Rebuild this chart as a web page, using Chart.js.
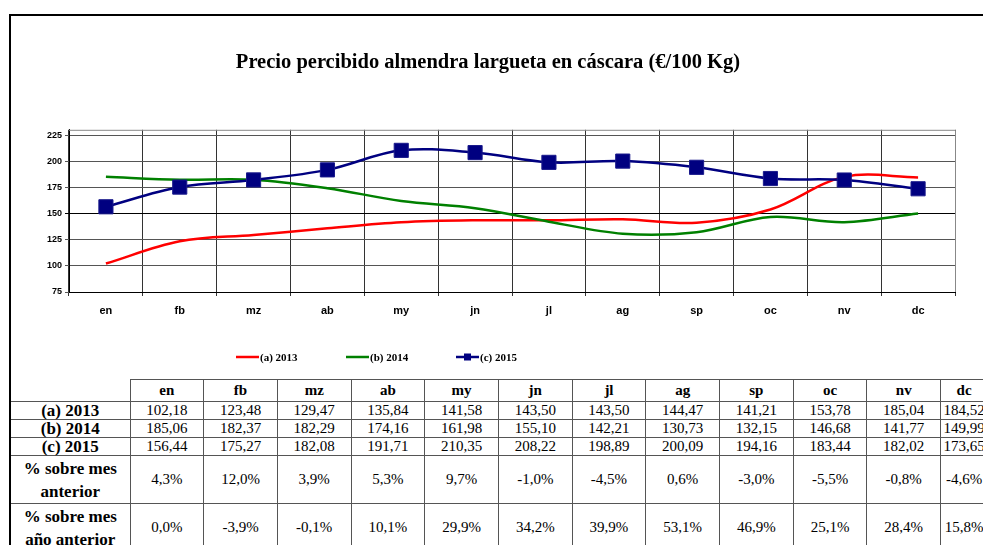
<!DOCTYPE html>
<html><head><meta charset="utf-8">
<script src="https://cdn.jsdelivr.net/npm/chart.js@4.4.0/dist/chart.umd.min.js"></script>
<style>
html,body{margin:0;padding:0;width:983px;height:545px;overflow:hidden;background:#fff;}
#frame{position:absolute;left:9px;top:14px;width:2000px;height:1000px;border-left:2px solid #000;border-top:2px solid #000;}
#wrap{position:absolute;left:0;top:0;width:983px;height:378px;}
#tbl{position:absolute;left:11px;top:379px;width:977px;border-collapse:collapse;table-layout:fixed;font-family:'Liberation Serif',serif;color:#000;}
#tbl td,#tbl th{padding:0;text-align:center;border:1px solid #555;overflow:visible;white-space:nowrap;}
#tbl th{font-weight:bold;font-size:15px;height:21px;}
#tbl td{font-size:15px;}
#tbl td.lab{font-weight:bold;font-size:17px;border-left:none;}
#tbl th.corner{border-top:none;border-left:none;}
#tbl tr.r td{height:17px;line-height:17px;}
#tbl tr.p td{height:47px;line-height:23px;}
</style></head>
<body>
<div id="frame"></div>
<div id="wrap"><canvas id="c" width="983" height="378"></canvas></div>
<table id="tbl"></table>
<script>
const months = ['en','fb','mz','ab','my','jn','jl','ag','sp','oc','nv','dc'];
const seriesLabels = ['(a) 2013','(b) 2014','(c) 2015'];
const values2013 = [102.18,123.48,129.47,135.84,141.58,143.50,143.50,144.47,141.21,153.78,185.04,184.52];
const values2014 = [185.06,182.37,182.29,174.16,161.98,155.10,142.21,130.73,132.15,146.68,141.77,149.99];
const values2015 = [156.44,175.27,182.08,191.71,210.35,208.22,198.89,200.09,194.16,183.44,182.02,173.65];
const pctMesAnterior = [4.3,12.0,3.9,5.3,9.7,-1.0,-4.5,0.6,-3.0,-5.5,-0.8,-4.6];
const pctAnoAnterior = [0.0,-3.9,-0.1,10.1,29.9,34.2,39.9,53.1,46.9,25.1,28.4,15.8];
const yTicks = [75,100,125,150,175,200,225];
const titleText = 'Precio percibido almendra largueta en cáscara (€/100 Kg)';

// ---- table ----
const fmt2 = v => v.toFixed(2).replace('.', ',');
const fmtP = v => v.toFixed(1).replace('.', ',') + '%';
let html = '<colgroup><col style="width:119px">' + months.map((m,i)=>'<col style="width:' + (i === months.length - 1 ? '47px' : '73.7px') + '">').join('') + '</colgroup>';
html += '<tr><th class="corner"></th>' + months.map(m=>'<th>'+m+'</th>').join('') + '</tr>';
[values2013, values2014, values2015].forEach((arr,i)=>{
  html += '<tr class="r"><td class="lab">'+seriesLabels[i]+'</td>' + arr.map(v=>'<td>'+fmt2(v)+'</td>').join('') + '</tr>';
});
html += '<tr class="p"><td class="lab">% sobre mes<br>anterior</td>' + pctMesAnterior.map(v=>'<td>'+fmtP(v)+'</td>').join('') + '</tr>';
html += '<tr class="p"><td class="lab">% sobre mes<br>año anterior</td>' + pctAnoAnterior.map(v=>'<td>'+fmtP(v)+'</td>').join('') + '</tr>';
document.getElementById('tbl').innerHTML = html;

// ---- chart ----
const legendPlugin = {
  id: 'excelLegend',
  afterDraw(chart) {
    const ctx = chart.ctx; const y = 357; const starts = [236, 346, 456];
    chart.data.datasets.forEach((ds, i) => {
      const x = starts[i];
      ctx.save();
      ctx.strokeStyle = ds.borderColor; ctx.lineWidth = 2.5;
      ctx.beginPath(); ctx.moveTo(x, y); ctx.lineTo(x + 23, y); ctx.stroke();
      if (ds.pointRadius > 0) { ctx.fillStyle = ds.pointBackgroundColor; ctx.fillRect(x + 11.5 - 3.5, y - 3.5, 7, 7); }
      ctx.fillStyle = '#000'; ctx.font = 'bold 11px "Liberation Serif"'; ctx.textBaseline = 'middle';
      ctx.fillText(ds.label, x + 24, y + 1);
      ctx.restore();
    });
  }
};
const borderPlugin = {
  id: 'plotBorder',
  beforeDatasetsDraw(chart) {
    const a = chart.chartArea, ctx = chart.ctx;
    ctx.save(); ctx.strokeStyle = '#888'; ctx.lineWidth = 1;
    ctx.beginPath(); ctx.moveTo(a.left, a.top + 0.5); ctx.lineTo(a.right + 0.5, a.top + 0.5); ctx.lineTo(a.right + 0.5, a.bottom); ctx.stroke();
    ctx.restore();
  }
};

new Chart(document.getElementById('c'), {
  type: 'line',
  data: {
    labels: months,
    datasets: [
      {label: seriesLabels[0], data: values2013, borderColor: '#ff0000', backgroundColor: '#ff0000', borderWidth: 2.5, pointRadius: 0, tension: 0.35, order: 3},
      {label: seriesLabels[1], data: values2014, borderColor: '#008000', backgroundColor: '#008000', borderWidth: 2.5, pointRadius: 0, tension: 0.35, order: 2},
      {label: seriesLabels[2], data: values2015, borderColor: '#000080', backgroundColor: '#000080', borderWidth: 2.5, pointRadius: 10, pointStyle: 'rect', pointBackgroundColor: '#000080', pointBorderColor: '#1a1a8c', pointBorderWidth: 1, tension: 0.35, order: 1}
    ]
  },
  options: {
    responsive: false, animation: false, devicePixelRatio: 1,
    layout: {padding: {left: 21, right: 28, top: 0, bottom: 0}},
    plugins: {
      legend: {display: false}, tooltip: {enabled: false},
      title: {display: true, text: titleText, color: '#000', font: {family: 'Liberation Serif', size: 20.5, weight: 'bold'}, padding: {top: 50, bottom: 55.2}}
    },
    scales: {
      x: {
        offset: true,
        grid: {offset: true, color: '#333', lineWidth: 1, tickLength: 4, drawTicks: true},
        border: {display: true, color: '#000'},
        ticks: {color: '#000', font: {family: 'Liberation Sans', size: 11, weight: 'bold'}, padding: 8, maxRotation: 0},
        afterFit(s) { s.height = 86; }
      },
      y: {
        min: 75, max: 230,
        afterBuildTicks(s) { s.ticks = yTicks.map(v => ({value: v})); },
        grid: {color: ctx => (ctx.tick && ctx.tick.value === 150) ? '#000' : '#555', lineWidth: 1, tickLength: 4, drawTicks: true},
        border: {display: true, color: '#000'},
        ticks: {color: '#000', font: {family: 'Liberation Sans', size: 9, weight: 'bold'}, padding: 3},
        afterFit(s) { s.width = 48; }
      }
    }
  },
  plugins: [legendPlugin, borderPlugin]
});
</script>
</body></html>
